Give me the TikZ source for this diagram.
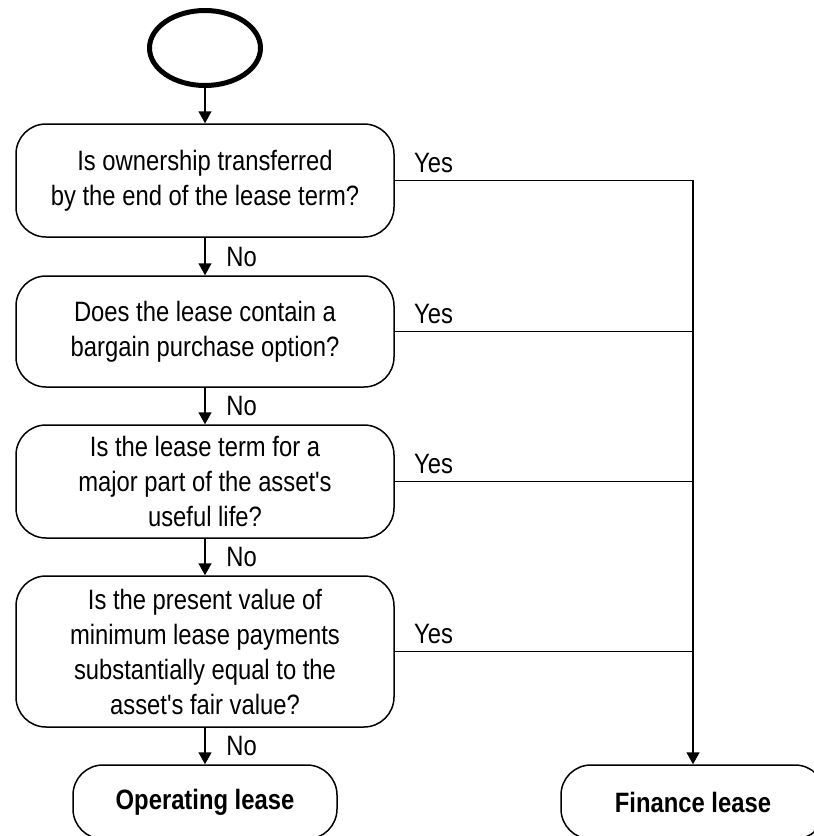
\documentclass[tikz,border=0pt]{standalone}
\usepackage{fontspec}
\setmainfont[FakeStretch=0.85,Ligatures=TeXOff]{Liberation Sans}
\usetikzlibrary{positioning,shapes.geometric,arrows.meta}
\newcommand{\qfont}{\fontsize{14}{17.5}\selectfont}

\begin{document}
\begin{tikzpicture}[x=0.5pt,y=-0.5pt,
    line width=0.75pt,
    flow/.style={-{Triangle[width=6.5pt,length=6pt]}},
    startoval/.style={draw,ellipse,line width=2.5pt,minimum width=55.5pt,minimum height=37.5pt,inner sep=0pt,outer sep=0pt},
    qbox/.style={draw,rounded corners=15pt,minimum width=189pt,align=center,inner sep=0pt,font=\qfont},
    endbox/.style={draw,rounded corners=15pt,minimum width=132pt,minimum height=37pt,inner sep=0pt,font=\qfont\bfseries},
    yeslab/.style={anchor=south west,pos=0,xshift=6pt,font=\qfont},
    nolab/.style={right,xshift=7pt,font=\qfont}]
  \clip (0,0) rectangle (814,836);

  % Start
  \node[startoval] (start) at (205,48) {};

  % Questions
  \node[qbox,minimum height=56.5pt] (q1) at (205,180.5) {Is ownership transferred\\by the end of the lease term?};
  \node[qbox,minimum height=55.5pt] (q2) at (205,331.5) {Does the lease contain a\\bargain purchase option?};
  \node[qbox,minimum height=56.5pt] (q3) at (205,481.5) {Is the lease term for a\\major part of the asset's\\useful life?};
  \node[qbox,minimum height=75.5pt] (q4) at (205,651.5) {Is the present value of\\minimum lease payments\\substantially equal to the\\asset's fair value?};

  % Outcomes
  \node[endbox] (oper) at (205,802) {Operating lease};
  \node[endbox] (fin) at (693,802) {Finance lease};

  % No branch
  \draw[flow] (start) -- (q1);
  \draw[flow] (q1) -- node[nolab] {No} (q2);
  \draw[flow] (q2) -- node[nolab] {No} (q3);
  \draw[flow] (q3) -- node[nolab] {No} (q4);
  \draw[flow] (q4) -- node[nolab] {No} (oper);

  % Yes branch
  \draw[flow] (q1.east) -| node[yeslab] {Yes} (fin.north);
  \draw (q2.east) -- node[yeslab] {Yes} (q2.east -| fin.north);
  \draw (q3.east) -- node[yeslab] {Yes} (q3.east -| fin.north);
  \draw (q4.east) -- node[yeslab] {Yes} (q4.east -| fin.north);
\end{tikzpicture}
\end{document}
